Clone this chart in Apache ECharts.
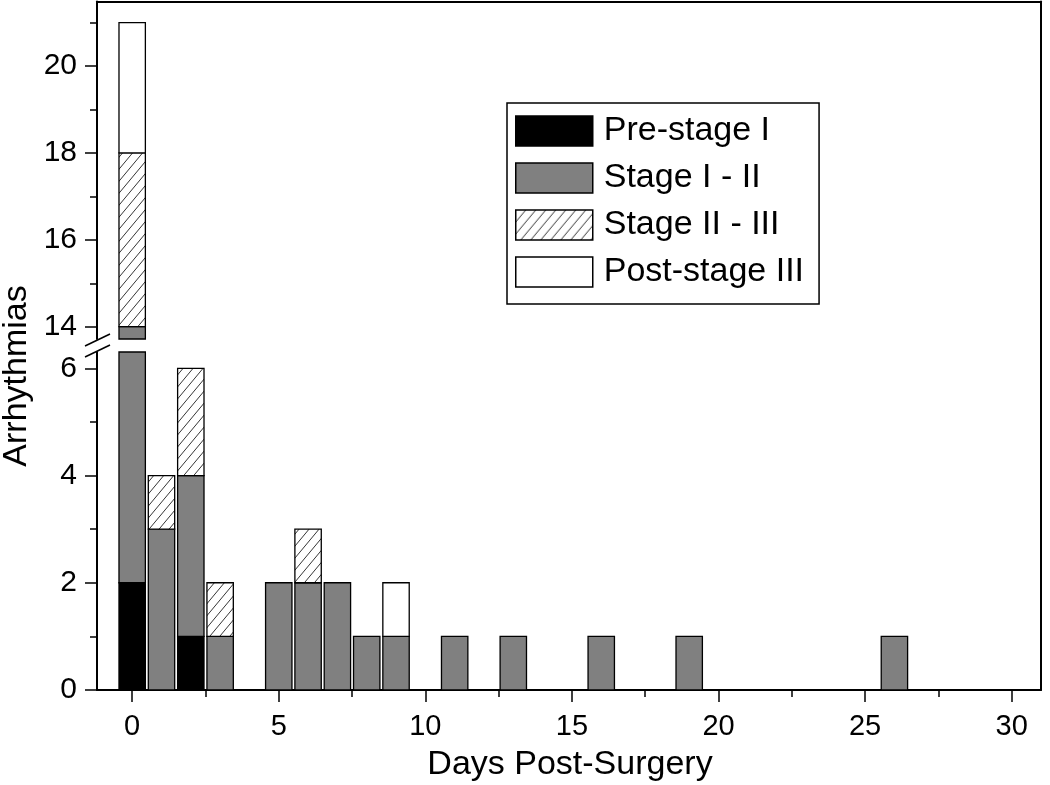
<!DOCTYPE html>
<html>
<head>
<meta charset="utf-8">
<script src="https://cdn.jsdelivr.net/npm/echarts@6/dist/echarts.min.js"></script>
<style>
  html, body { margin: 0; padding: 0; background: #fff; }
  #chart { width: 1050px; height: 785px; }
</style>
</head>
<body>
<div id="chart"></div>
<script>
// ---- data ----
const days       = [0, 1, 2, 3, 5, 6, 7, 8, 9, 11, 13, 16, 19, 26];
const preStage   = [2, 0, 1, 0, 0, 0, 0, 0, 0, 0, 0, 0, 0, 0];
const stage12    = [12, 3, 3, 1, 2, 2, 2, 1, 1, 1, 1, 1, 1, 1];
const stage23    = [4, 1, 2, 1, 0, 1, 0, 0, 0, 0, 0, 0, 0, 0];
const postStage  = [3, 0, 0, 0, 0, 0, 0, 0, 1, 0, 0, 0, 0, 0];
const seriesNames = ['Pre-stage I', 'Stage I - II', 'Stage II - III', 'Post-stage III'];
const xMajorTicks = [0, 5, 10, 15, 20, 25, 30];
const xMinorTicks = [2.5, 7.5, 12.5, 17.5, 22.5, 27.5];
const yLowerTicks = [0, 2, 4, 6];
const yLowerMinor = [1, 3, 5];
const yUpperTicks = [14, 16, 18, 20];
const yUpperMinor = [15, 17, 19, 21];

// ---- styling ----
const FONT = "'Liberation Sans', Arial, Helvetica, sans-serif";
const BAR_W = 0.9; // bar width in days

function hatchCanvas() {
  const w = 10, h = 12;
  const c = document.createElement('canvas');
  c.width = w; c.height = h;
  const g = c.getContext('2d');
  g.fillStyle = '#fff';
  g.fillRect(0, 0, w, h);
  g.strokeStyle = '#000';
  g.lineWidth = 0.8;
  g.beginPath();
  g.moveTo(0, h); g.lineTo(w, 0);
  g.moveTo(-w, h); g.lineTo(0, 0);
  g.moveTo(w, h); g.lineTo(2 * w, 0);
  g.stroke();
  return c;
}
const fills = ['#000000', '#808080', { image: hatchCanvas(), repeat: 'repeat' }, '#ffffff'];

// build stacked rows [day, lo, hi]
const stages = [preStage, stage12, stage23, postStage];
const rows = stages.map(() => []);
days.forEach((d, i) => {
  let base = 0;
  stages.forEach((arr, s) => {
    const v = arr[i];
    if (v > 0) rows[s].push([d, base, base + v]);
    base += v;
  });
});

function renderBar(params, api) {
  const cs = params.coordSys;
  const day = api.value(0), lo = api.value(1), hi = api.value(2);
  const p0 = api.coord([day, lo]);
  const p1 = api.coord([day, hi]);
  const w = api.size([BAR_W, 0])[0];
  const yTop = Math.max(p1[1], cs.y);
  const yBot = Math.min(p0[1], cs.y + cs.height);
  if (yBot - yTop <= 0) return null;
  return {
    type: 'rect',
    shape: { x: p0[0] - w / 2, y: yTop, width: w, height: yBot - yTop },
    style: { fill: fills[params.seriesIndex % 4], stroke: '#000', lineWidth: 1.3 }
  };
}

const series = [];
[0, 1].forEach(g => {
  stages.forEach((arr, s) => {
    series.push({
      type: 'custom',
      name: seriesNames[s],
      xAxisIndex: g === 0 ? 0 : 1,
      yAxisIndex: g === 0 ? 0 : 2,
      renderItem: renderBar,
      encode: { x: 0, y: [1, 2] },
      itemStyle: { color: fills[s], borderColor: '#000', borderWidth: 1.5 },
      data: rows[s],
      silent: true
    });
  });
});

const X_MIN = -1.2, X_MAX = 31;
const axisLineStyle = { color: '#000', width: 2 };
const tickStyle = { color: '#000', width: 1.5 };
const hidden = { show: false };

const option = {
  animation: false,
  backgroundColor: '#fff',
  grid: [
    { left: 97, right: 9, top: 1.5, bottom: 446 },
    { left: 97, right: 9, top: 352, bottom: 95 },
    { left: 97, right: 9, top: 1.5, bottom: 95 }
  ],
  xAxis: [
    { gridIndex: 0, type: 'value', min: X_MIN, max: X_MAX, show: false },
    { gridIndex: 1, type: 'value', min: X_MIN, max: X_MAX, position: 'bottom',
      axisLine: { onZero: false, lineStyle: axisLineStyle },
      axisTick: { length: 12, customValues: xMajorTicks, lineStyle: tickStyle },
      axisLabel: { customValues: xMajorTicks, fontSize: 29, color: '#000', fontFamily: FONT, margin: 22 },
      splitLine: hidden },
    { gridIndex: 1, type: 'value', min: X_MIN, max: X_MAX, position: 'bottom',
      axisLine: { show: false, onZero: false },
      axisTick: { length: 7, customValues: xMinorTicks, lineStyle: tickStyle },
      axisLabel: hidden, splitLine: hidden },
    { gridIndex: 2, type: 'value', min: 0, max: 1, position: 'top',
      axisLine: { onZero: false, lineStyle: axisLineStyle },
      axisTick: hidden, axisLabel: hidden, splitLine: hidden }
  ],
  yAxis: [
    { gridIndex: 0, type: 'value', min: 13.717, max: 21.487, position: 'left',
      axisLine: { onZero: false, lineStyle: axisLineStyle },
      axisTick: { length: 12, customValues: yUpperTicks, lineStyle: tickStyle },
      axisLabel: { customValues: yUpperTicks, fontSize: 30, color: '#000', fontFamily: FONT, margin: 20 },
      splitLine: hidden },
    { gridIndex: 0, type: 'value', min: 13.717, max: 21.487, position: 'left',
      axisLine: { show: false, onZero: false },
      axisTick: { length: 7, customValues: yUpperMinor, lineStyle: tickStyle },
      axisLabel: hidden, splitLine: hidden },
    { gridIndex: 1, type: 'value', min: 0, max: 6.304, position: 'left',
      axisLine: { onZero: false, lineStyle: axisLineStyle },
      axisTick: { length: 12, customValues: yLowerTicks, lineStyle: tickStyle },
      axisLabel: { customValues: yLowerTicks, fontSize: 30, color: '#000', fontFamily: FONT, margin: 20 },
      splitLine: hidden },
    { gridIndex: 1, type: 'value', min: 0, max: 6.304, position: 'left',
      axisLine: { show: false, onZero: false },
      axisTick: { length: 7, customValues: yLowerMinor, lineStyle: tickStyle },
      axisLabel: hidden, splitLine: hidden },
    { gridIndex: 2, type: 'value', min: 0, max: 1, position: 'right',
      axisLine: { onZero: false, lineStyle: axisLineStyle },
      axisTick: hidden, axisLabel: hidden, splitLine: hidden }
  ],
  legend: {
    data: seriesNames,
    orient: 'vertical',
    left: 507, top: 103,
    icon: 'rect',
    itemWidth: 77, itemHeight: 30, itemGap: 13,
    padding: [11, 15, 15, 8],
    borderColor: '#000', borderWidth: 1.5,
    backgroundColor: '#fff',
    selectedMode: false,
    itemStyle: { borderColor: '#000', borderWidth: 1.5 },
    textStyle: { fontSize: 34, lineHeight: 30, color: '#000', fontFamily: FONT, padding: [0, 0, 0, 6] }
  },
  graphic: [
    { type: 'text', x: 17, y: 376, rotation: Math.PI / 2,
      style: { text: 'Arrhythmias', fontSize: 34, fontFamily: FONT, fill: '#000', textAlign: 'center', textVerticalAlign: 'middle' } },
    { type: 'text', x: 570, y: 765,
      style: { text: 'Days Post-Surgery', fontSize: 34, fontFamily: FONT, fill: '#000', textAlign: 'center', textVerticalAlign: 'middle' } },
    { type: 'line', shape: { x1: 85, y1: 346, x2: 110, y2: 334 }, style: { stroke: '#000', lineWidth: 1.5 } },
    { type: 'line', shape: { x1: 85, y1: 357, x2: 110, y2: 345 }, style: { stroke: '#000', lineWidth: 1.5 } }
  ],
  series: series
};

const chart = echarts.init(document.getElementById('chart'), null, { renderer: 'canvas' });
chart.setOption(option);
</script>
</body>
</html>
